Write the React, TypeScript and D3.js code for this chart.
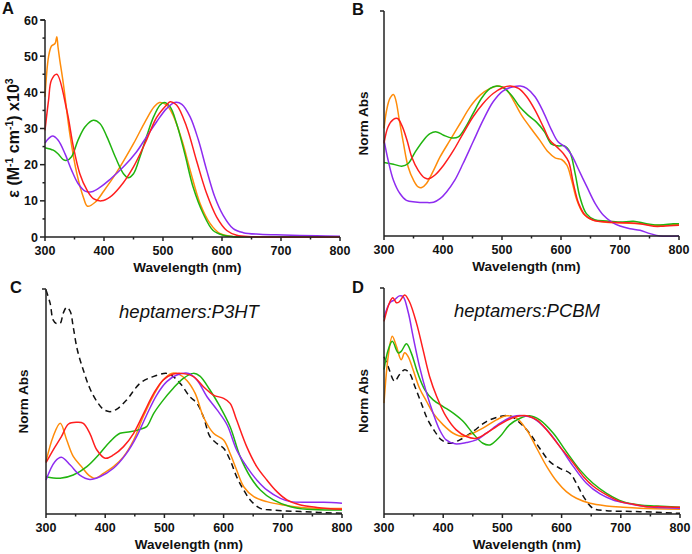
import React from 'react';
import * as d3 from 'd3';

type P = [number, number];

const xTicks = [300, 400, 500, 600, 700, 800];
const xMinorTicks = [350, 450, 550, 650, 750];
const aYTicks = [0, 10, 20, 30, 40, 50, 60];
const aYMinorTicks = [5, 15, 25, 35, 45, 55];
const xTitle = 'Wavelength (nm)';
const normLabel = 'Norm Abs';
const cTitle = 'heptamers:P3HT';
const dTitle = 'heptamers:PCBM';

// Panel A: molar absorptivity (x10^3)
const aOrange: P[] = [[300,38.8],[306,49.8],[311,52.8],[317,53.5],[320,55.4],[322,52.6],[325,49],[331,42.5],[342,28.6],[354,17.5],[365,11],[372,8.5],[385,9.6],[400,12.8],[420,17.5],[450,25.8],[470,32],[485,36],[494,37.2],[506,36.5],[517,33.7],[532,26.8],[546,18.5],[563,9.2],[580,3.7],[597,0.9],[614,0.2],[650,0.05],[800,0]];
const aGreen: P[] = [[300,24.7],[314,24],[322,23],[331,21.4],[337,21.2],[345,22.2],[356,26.8],[368,30.5],[382,32.3],[393,31.4],[405,27.7],[419,22.2],[433,17.5],[441,16.4],[450,17.5],[461,22.2],[472,27.7],[484,33.2],[495,36.5],[502,37.2],[512,36],[523,31.4],[537,23],[551,13.8],[568,6.5],[585,1.8],[602,0.5],[619,0.1],[650,0.02],[800,0]];
const aRed: P[] = [[300,29.5],[306,37.8],[311,43.4],[320,45],[337,35],[348,25],[359,17.5],[371,13],[382,10.6],[396,10],[410,11],[427,13.8],[450,19.4],[472,26.8],[489,33],[506,36.5],[512,37.4],[523,36.5],[540,30.5],[557,21],[574,12],[591,5.5],[608,1.8],[625,0.5],[650,0.1],[800,0]];
const aPurple: P[] = [[300,26],[306,27.2],[313,27.9],[322,26.8],[334,23],[345,18.5],[356,14.8],[368,12.7],[379,12.5],[393,13.7],[410,15.9],[433,19.4],[455,23.5],[472,27.7],[489,31.8],[506,35.5],[520,37.2],[532,36.7],[546,33.2],[560,26.8],[574,18.5],[588,11],[602,6],[619,2.3],[636,1.2],[664,0.75],[704,0.55],[760,0.35],[800,0.2]];

// Panel B: normalized absorbance (solution)
const bOrange: P[] = [[300,0.717],[304.5,0.84],[310,0.917],[316,0.944],[320,0.906],[326,0.772],[333,0.617],[341,0.46],[350,0.372],[358,0.327],[364,0.323],[372,0.35],[384,0.438],[395,0.527],[412,0.639],[429,0.75],[446,0.861],[463,0.939],[480,0.984],[495,1.0],[508,0.973],[519,0.906],[533,0.806],[547,0.728],[564,0.639],[578,0.561],[590,0.521],[601,0.51],[610,0.472],[618,0.372],[627,0.238],[638,0.149],[652,0.109],[672,0.093],[706,0.087],[734,0.082],[768,0.071],[800,0.078]];
const bGreen: P[] = [[300,0.49],[316,0.479],[330,0.465],[341,0.483],[353,0.561],[367,0.639],[378,0.683],[389,0.694],[401,0.672],[415,0.654],[426,0.661],[437,0.717],[451,0.817],[465,0.917],[480,0.984],[491,1.0],[502,0.99],[516,0.939],[530,0.861],[544,0.806],[558,0.761],[572,0.694],[584,0.612],[595,0.601],[606,0.601],[615,0.561],[624,0.416],[632,0.26],[643,0.149],[657,0.109],[677,0.1],[700,0.093],[723,0.098],[745,0.082],[768,0.073],[790,0.082],[800,0.082]];
const bRed: P[] = [[300,0.617],[307,0.728],[316,0.777],[323,0.783],[330,0.739],[339,0.639],[347,0.527],[358,0.438],[369,0.387],[375,0.381],[386,0.405],[401,0.472],[418,0.572],[434,0.683],[451,0.795],[468,0.884],[485,0.95],[502,0.99],[514,1.0],[528,0.984],[542,0.928],[556,0.839],[570,0.728],[581,0.639],[593,0.594],[604,0.55],[613,0.494],[621,0.349],[630,0.216],[641,0.138],[655,0.105],[677,0.093],[706,0.089],[734,0.082],[757,0.065],[773,0.065],[800,0.071]];
const bPurple: P[] = [[300,0.639],[307,0.505],[316,0.372],[327,0.283],[338,0.238],[353,0.227],[370,0.223],[384,0.225],[395,0.249],[406,0.294],[420,0.372],[434,0.483],[451,0.628],[468,0.772],[485,0.895],[502,0.968],[519,0.995],[531,1.0],[542,0.984],[556,0.928],[570,0.828],[584,0.706],[595,0.628],[607,0.594],[618,0.539],[629,0.45],[644,0.327],[658,0.216],[672,0.138],[686,0.093],[700,0.067],[717,0.049],[734,0.038],[751,0.016],[768,0.0],[800,0.0]];

// Panel C: heptamers:P3HT films
const cBlack: P[] = [[300,1.593],[307,1.498],[312,1.38],[317,1.356],[324,1.356],[329,1.427],[335,1.47],[341,1.44],[346,1.33],[353,1.166],[363,1.024],[374,0.894],[386,0.8],[397,0.744],[408,0.728],[419,0.744],[436,0.81],[459,0.93],[481,0.977],[504,1.0],[515,0.977],[529,0.917],[543,0.834],[555,0.787],[566,0.69],[577,0.55],[589,0.5],[600,0.467],[611,0.384],[622,0.265],[634,0.17],[645,0.1],[662,0.04],[684,0.028],[730,0.017],[800,0.005]];
const cOrange: P[] = [[300,0.372],[312,0.55],[324,0.645],[335,0.526],[346,0.41],[360,0.337],[372,0.277],[383,0.254],[397,0.289],[414,0.337],[431,0.408],[448,0.526],[464,0.69],[482,0.846],[498,0.953],[512,1.0],[524,0.995],[538,0.95],[552,0.858],[566,0.69],[583,0.574],[600,0.526],[611,0.43],[622,0.313],[634,0.194],[651,0.123],[673,0.088],[701,0.064],[730,0.047],[758,0.04],[800,0.04]];
const cGreen: P[] = [[300,0.265],[324,0.254],[346,0.277],[369,0.337],[391,0.431],[408,0.514],[425,0.574],[442,0.585],[459,0.602],[470,0.621],[482,0.716],[498,0.81],[515,0.894],[532,0.965],[549,1.0],[560,0.981],[577,0.882],[594,0.763],[611,0.621],[628,0.408],[645,0.265],[662,0.171],[684,0.1],[713,0.052],[741,0.033],[800,0.028]];
const cPurple: P[] = [[300,0.242],[315,0.372],[326,0.403],[341,0.348],[357,0.277],[374,0.246],[391,0.265],[414,0.325],[436,0.431],[453,0.55],[470,0.704],[487,0.846],[504,0.941],[521,0.988],[541,1.0],[555,0.953],[572,0.834],[589,0.74],[606,0.633],[622,0.455],[639,0.337],[656,0.242],[673,0.171],[696,0.111],[713,0.088],[741,0.083],[769,0.083],[800,0.076]];
const cRed: P[] = [[300,0.365],[312,0.455],[326,0.55],[338,0.64],[352,0.652],[363,0.645],[374,0.574],[386,0.455],[400,0.396],[414,0.42],[431,0.479],[448,0.574],[465,0.716],[482,0.858],[498,0.953],[515,0.995],[529,1.0],[549,0.977],[566,0.905],[583,0.846],[600,0.822],[611,0.787],[622,0.668],[639,0.479],[656,0.337],[673,0.242],[690,0.159],[707,0.1],[730,0.064],[758,0.047],[800,0.033]];

// Panel D: heptamers:PCBM films
const dBlack: P[] = [[300,1.6],[307,1.5],[318,1.35],[326,1.417],[335,1.468],[343,1.434],[352,1.3],[363,1.128],[374,0.958],[386,0.839],[397,0.754],[411,0.72],[428,0.754],[450,0.839],[473,0.941],[496,0.992],[513,1.0],[530,0.924],[546,0.822],[563,0.669],[580,0.533],[597,0.465],[614,0.415],[625,0.313],[637,0.177],[653,0.058],[676,0.034],[732,0.024],[800,0.007]];
const dOrange: P[] = [[300,1.128],[307,1.6],[314,1.81],[321,1.706],[329,1.57],[335,1.64],[341,1.6],[349,1.47],[360,1.28],[372,1.145],[383,1.026],[400,0.907],[417,0.822],[434,0.788],[450,0.822],[467,0.873],[490,0.958],[507,1.0],[524,0.975],[541,0.856],[558,0.669],[575,0.482],[592,0.33],[608,0.228],[625,0.16],[648,0.109],[676,0.082],[704,0.068],[732,0.058],[800,0.048]];
const dGreen: P[] = [[300,1.47],[307,1.67],[314,1.757],[324,1.64],[329,1.655],[338,1.733],[346,1.64],[357,1.434],[369,1.264],[383,1.162],[400,1.094],[417,1.026],[434,0.941],[450,0.822],[467,0.72],[479,0.703],[496,0.788],[512,0.907],[530,0.975],[546,1.0],[563,0.958],[586,0.822],[608,0.635],[631,0.449],[653,0.313],[676,0.211],[704,0.126],[732,0.092],[760,0.082],[800,0.068]];
const dPurple: P[] = [[300,2.0],[310,2.15],[318,2.18],[326,2.22],[332,2.215],[341,2.05],[349,1.81],[360,1.5],[372,1.23],[383,1.026],[394,0.856],[405,0.754],[420,0.714],[439,0.727],[456,0.754],[473,0.822],[496,0.924],[518,0.992],[535,1.0],[552,0.975],[575,0.856],[597,0.686],[620,0.482],[642,0.313],[665,0.204],[687,0.143],[710,0.109],[732,0.085],[755,0.068],[800,0.058]];
const dRed: P[] = [[300,1.96],[310,2.16],[315,2.2],[321,2.15],[326,2.16],[335,2.23],[343,2.16],[355,1.94],[366,1.67],[377,1.4],[389,1.196],[405,0.99],[422,0.856],[439,0.788],[456,0.771],[473,0.822],[490,0.89],[507,0.951],[524,0.992],[541,1.0],[558,0.958],[575,0.856],[597,0.686],[620,0.516],[637,0.38],[653,0.285],[676,0.194],[699,0.126],[721,0.099],[744,0.075],[766,0.075],[800,0.068]];

const ORANGE = '#FF8C0A';
const GREEN = '#20B40F';
const RED = '#FF1E1E';
const PURPLE = '#8E2CF0';
const AXIS = '#222';
const FONT = '"Liberation Sans", Arial, sans-serif';

interface Geo { x0: number; x1: number; yTop: number; yBottom: number; yMax: number; }
interface Series { data: P[]; color: string; dashed?: boolean; }

function Panel(props: {
  geo: Geo; series: Series[]; letter: string; letterX: number; letterY: number;
  yLabelX: number; yLabelY?: number; yLabelSize?: number; yLabel: React.ReactNode;
  yTicks?: number[]; yMinor?: number[]; title?: string;
}) {
  const { geo, series, letter, letterX, letterY, yLabelX, yLabelY, yLabelSize, yLabel, yTicks, yMinor, title } = props;
  const x = d3.scaleLinear().domain([300, 800]).range([geo.x0, geo.x1]);
  const y = d3.scaleLinear().domain([0, geo.yMax]).range([geo.yBottom, geo.yTop]);
  const line = d3.line<P>().x(d => x(d[0])).y(d => y(d[1])).curve(d3.curveCatmullRom.alpha(0.5));
  const cx = (geo.x0 + geo.x1) / 2 - 5;
  const cy = yLabelY ?? (geo.yTop + geo.yBottom) / 2;
  return (
    <g>
      <text x={letterX} y={letterY} fontFamily={FONT} fontWeight="bold" fontSize={16.5} fill="#111">{letter}</text>
      {series.map((s, i) => (
        <path key={i} d={line(s.data) || ''} fill="none" stroke={s.color} strokeWidth={1.5}
          strokeDasharray={s.dashed ? '6,4' : undefined} strokeLinejoin="round" />
      ))}
      <line x1={geo.x0} x2={geo.x0} y1={geo.yTop} y2={geo.yBottom} stroke={AXIS} strokeWidth={1.5} />
      <line x1={geo.x0} x2={geo.x1} y1={geo.yBottom} y2={geo.yBottom} stroke={AXIS} strokeWidth={1.5} />
      <line x1={geo.x0 - 4} x2={geo.x0} y1={geo.yTop} y2={geo.yTop} stroke={AXIS} strokeWidth={1.5} />
      {xTicks.map(t => (
        <g key={'xt' + t}>
          <line x1={x(t)} x2={x(t)} y1={geo.yBottom} y2={geo.yBottom + 4} stroke={AXIS} strokeWidth={1.5} />
          <text x={x(t)} y={geo.yBottom + 18} textAnchor="middle" fontFamily={FONT} fontWeight="bold" fontSize={12.5} fill="#111">{t}</text>
        </g>
      ))}
      {xMinorTicks.map(t => (
        <line key={'xm' + t} x1={x(t)} x2={x(t)} y1={geo.yBottom} y2={geo.yBottom + 2.5} stroke={AXIS} strokeWidth={1.5} />
      ))}
      {(yTicks || []).map(t => (
        <g key={'yt' + t}>
          <line x1={geo.x0 - 5} x2={geo.x0} y1={y(t)} y2={y(t)} stroke={AXIS} strokeWidth={1.5} />
          <text x={geo.x0 - 7} y={y(t)} dy="0.36em" textAnchor="end" fontFamily={FONT} fontWeight="bold" fontSize={12.5} fill="#111">{t}</text>
        </g>
      ))}
      {(yMinor || []).map(t => (
        <line key={'ym' + t} x1={geo.x0 - 2.5} x2={geo.x0} y1={y(t)} y2={y(t)} stroke={AXIS} strokeWidth={1.5} />
      ))}
      <text x={cx} y={geo.yBottom + 35} textAnchor="middle" fontFamily={FONT} fontWeight="bold" fontSize={13.5} fill="#111">{xTitle}</text>
      <text transform={`translate(${yLabelX},${cy}) rotate(-90)`} textAnchor="middle" fontFamily={FONT} fontWeight="bold" fontSize={yLabelSize ?? 13.5} fill="#111">{yLabel}</text>
      {title && (
        <text x={cx} y={geo.yTop + 29} textAnchor="middle" fontFamily={FONT} fontStyle="italic" fontSize={18.5} fill="#111">{title}</text>
      )}
    </g>
  );
}

export default function App() {
  const epsLabel = (
    <>
      <tspan>ε (M</tspan>
      <tspan baselineShift="super" fontSize={10.5}>-1</tspan>
      <tspan> cm</tspan>
      <tspan baselineShift="super" fontSize={10.5}>-1</tspan>
      <tspan>) x10</tspan>
      <tspan baselineShift="super" fontSize={10.5}>3</tspan>
    </>
  );
  return (
    <svg width={692} height={554} style={{ position: 'absolute', left: 0, top: 0, background: '#fff' }}>
      <rect width={692} height={554} fill="#fff" />
      <Panel geo={{ x0: 45, x1: 340, yTop: 20, yBottom: 237, yMax: 60 }}
        series={[{ data: aOrange, color: ORANGE }, { data: aGreen, color: GREEN }, { data: aPurple, color: PURPLE }, { data: aRed, color: RED }]}
        letter="A" letterX={2} letterY={14} yLabelX={19} yLabelY={138} yLabelSize={16} yLabel={epsLabel} yTicks={aYTicks} yMinor={aYMinorTicks} />
      <Panel geo={{ x0: 384, x1: 679, yTop: 11, yBottom: 236, yMax: 1.5 }}
        series={[{ data: bOrange, color: ORANGE }, { data: bGreen, color: GREEN }, { data: bPurple, color: PURPLE }, { data: bRed, color: RED }]}
        letter="B" letterX={352} letterY={15} yLabelX={368} yLabel={normLabel} />
      <Panel geo={{ x0: 46, x1: 342, yTop: 289, yBottom: 514, yMax: 1.6 }}
        series={[{ data: cBlack, color: '#111', dashed: true }, { data: cOrange, color: ORANGE }, { data: cGreen, color: GREEN }, { data: cPurple, color: PURPLE }, { data: cRed, color: RED }]}
        letter="C" letterX={10} letterY={293} yLabelX={28} yLabel={normLabel} title={cTitle} />
      <Panel geo={{ x0: 384, x1: 680, yTop: 288, yBottom: 514, yMax: 2.3 }}
        series={[{ data: dBlack, color: '#111', dashed: true }, { data: dOrange, color: ORANGE }, { data: dGreen, color: GREEN }, { data: dPurple, color: PURPLE }, { data: dRed, color: RED }]}
        letter="D" letterX={352} letterY={293} yLabelX={368} yLabel={normLabel} title={dTitle} />
    </svg>
  );
}
